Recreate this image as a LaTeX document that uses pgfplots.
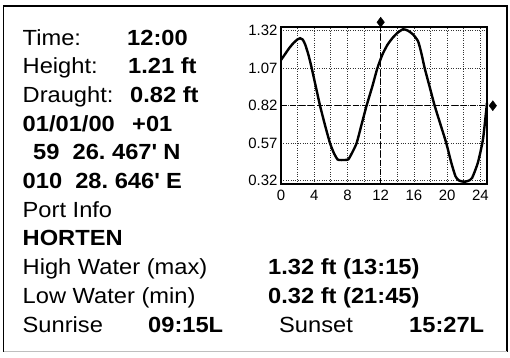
\documentclass[border=0pt]{standalone}
\usepackage{pgfplots}
\pgfplotsset{compat=1.18}
\usepackage{fontspec}
\setmainfont{Liberation Sans}[FakeStretch=1.08]
\newfontfamily\tickfont{Liberation Sans}
\begin{document}
\begin{tikzpicture}
\path[use as bounding box] (0,0) rectangle (510bp,-358bp);
\draw[line width=1.2bp, black] (3.5bp,-351.5bp) -- (3.5bp,-6bp) -- (507bp,-6bp) -- (507bp,-351.5bp);
\draw[line width=1.2bp, black!25] (3.5bp,-351.5bp) -- (507bp,-351.5bp);
\begin{axis}[
  at={(281bp,-184bp)}, anchor=south west,
  width=206bp, height=157bp, scale only axis,
  xmin=0, xmax=24.8, ymin=0.298, ymax=1.345,
  xtick={0,4,8,12,16,20,24},
  minor xtick={2,6,10,14,18,22},
  ytick={0.32,0.57,0.82,1.07,1.32},
  yticklabel style={/pgf/number format/.cd,fixed,fixed zerofill,precision=2},
  xticklabel style={yshift=-3bp, /pgf/number format/.cd,fixed,precision=0},
  /pgf/number format/assume math mode=true,
  tick label style={font=\tickfont\fontsize{15}{15}\selectfont, text=black},
  grid=both,
  major grid style={dotted, black!80, line width=0.7bp},
  minor grid style={dotted, black!80, line width=0.7bp},
  major tick length=0pt, minor tick length=0pt,
  axis line style={line width=1.7bp},
  clip=false,
]
\addplot[black, line width=0.9bp, dash pattern=on 6bp off 3bp] coordinates {(12,0.298) (12,1.345)};
\addplot[black, line width=0.9bp, dash pattern=on 6bp off 3bp] coordinates {(0,0.82) (24.8,0.82)};
\addplot[black, line width=2.4bp, smooth, tension=0.35] coordinates {
(0,1.125) (0.5,1.165) (1.0,1.205) (1.5,1.238) (2.0,1.263) (2.3,1.27) (2.6,1.262)
(2.9,1.23) (3.3,1.16) (3.7,1.07) (4.2,0.945) (4.7,0.82) (5.3,0.69) (5.9,0.57)
(6.4,0.50) (6.8,0.462) (7.0,0.458) (7.6,0.458) (8.1,0.462) (8.5,0.50) (9.1,0.57)
(9.7,0.695) (10.3,0.82) (11.0,0.95) (11.6,1.07) (12.2,1.16) (12.8,1.225) (13.4,1.27)
(14.0,1.305) (14.7,1.33) (15.3,1.32) (15.9,1.295) (16.5,1.25) (16.9,1.17) (17.3,1.07)
(17.9,0.945) (18.5,0.82) (19.2,0.695) (19.9,0.57) (20.5,0.44) (21.0,0.35) (21.4,0.322)
(22.0,0.313) (22.5,0.318) (23.0,0.338) (23.7,0.44) (24.3,0.59) (24.65,0.76) (24.8,0.84)
};
\addplot[only marks, mark=diamond*, mark size=5bp, black] coordinates {(12,1.377) (25.5,0.82)};
\end{axis}
\begin{scope}[every node/.style={anchor=base west, inner sep=0pt, font=\fontsize{22}{22}\selectfont}]
\node at (22.5bp,-45bp) {Time:};
\node at (127bp,-45bp) {\bfseries 12:00};
\node at (22.5bp,-73.7bp) {Height:};
\node at (128bp,-73.7bp) {\bfseries 1.21 ft};
\node at (22.5bp,-102.4bp) {Draught:};
\node at (130bp,-102.4bp) {\bfseries 0.82 ft};
\node at (22.5bp,-131.1bp) {\bfseries 01/01/00};
\node at (132bp,-131.1bp) {\bfseries +01};
\node at (33bp,-159.8bp) {\bfseries 59\ \ 26.\ 467\textquotesingle{} N};
\node at (22.5bp,-188.5bp) {\bfseries 010\ \ 28.\ 646\textquotesingle{} E};
\node at (22.5bp,-217.2bp) {Port Info};
\node at (22.5bp,-245.9bp) {\bfseries HORTEN};
\node at (22.5bp,-274.6bp) {High Water (max)};
\node at (268bp,-274.6bp) {\bfseries 1.32 ft (13:15)};
\node at (22.5bp,-303.3bp) {Low Water (min)};
\node at (268bp,-303.3bp) {\bfseries 0.32 ft (21:45)};
\node at (22.5bp,-332bp) {Sunrise};
\node at (148bp,-332bp) {\bfseries 09:15L};
\node at (279bp,-332bp) {Sunset};
\node at (409bp,-332bp) {\bfseries 15:27L};
\end{scope}
\end{tikzpicture}
\end{document}
